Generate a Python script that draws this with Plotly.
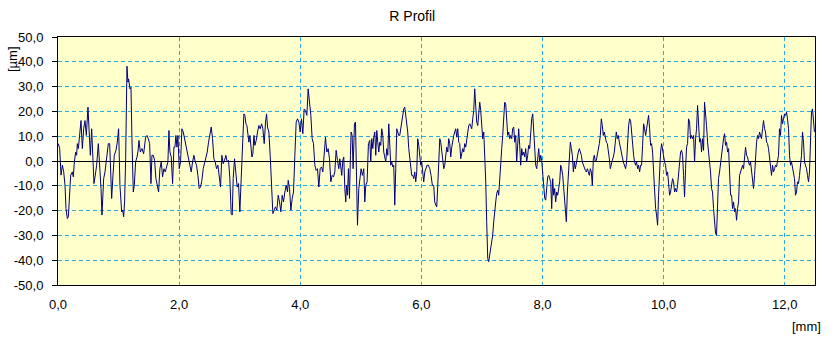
import plotly.graph_objects as go

# ---- data (mm, µm) ----
x_seg1 = [0.006,0.028,0.050,0.072,0.094,0.116,0.132,0.154,0.171,0.187,0.209,0.237,0.253,0.270,0.292,0.308,0.319,0.336,0.352,0.380,0.402,0.424,0.446,0.468,0.495,0.517,0.534,0.556,0.572,0.594,0.616,0.638,0.666,0.688,0.710,0.726,0.754,0.776,0.803,0.831,0.853,0.875,0.886,0.908,0.930,0.957,0.979,1.001,1.023,1.051,1.067,1.084,1.100,1.117,1.139,1.155,1.166,1.188,1.205,1.221,1.243,1.260,1.282,1.304,1.320,1.337,1.359,1.386,1.414,1.447,1.469,1.491,1.513]
y_seg1 = [7.0,5.0,-5.7,-1.7,-4.4,-9.8,-19.2,-23.2,-22.5,-16.5,-5.7,-4.4,-6.4,-0.4,3.6,2.3,7.0,5.0,9.0,16.3,5.0,13.0,16.3,10.3,21.7,13.0,2.3,13.0,2.3,-9.1,-5.7,-1.7,7.0,-1.7,-11.1,-21.8,-7.1,-4.4,2.3,7.0,7.0,-4.4,-15.1,-5.7,2.3,4.3,7.6,13.0,-9.8,-20.5,-19.8,-22.5,-16.5,0.9,38.2,31.8,33.1,29.1,29.7,9.0,-12.5,-9.8,-0.4,1.6,3.6,8.3,3.6,5.0,2.9,9.6,10.3,9.0,7.0]

x_seg2 = [1.535,1.551,1.573,1.595,1.617,1.639,1.661,1.683,1.705,1.727,1.749,1.771,1.793,1.815,1.832,1.848,1.870,1.892,1.914,1.931,1.947,1.964,1.980,2.002,2.024,2.046,2.068,2.090,2.112,2.134,2.156,2.178,2.200,2.222,2.244,2.266,2.288,2.310,2.332,2.354,2.376,2.398,2.420,2.442,2.464,2.486,2.508,2.530,2.552,2.574,2.596,2.618,2.640,2.662,2.684,2.706,2.728,2.750,2.772,2.794,2.816,2.838,2.860,2.877,2.893,2.915,2.937,2.959,2.981,3.003,3.025,3.047,3.069]
y_seg2 = [-9.1,2.3,2.3,0.3,-7.1,-10.5,-12.5,-3.1,-0.4,-6.4,-3.1,-4.4,-1.7,-0.4,12.3,3.6,1.6,-9.1,5.6,5.6,10.3,5.6,10.3,-3.1,-0.4,13.0,11.7,9.0,7.6,3.6,0.9,-1.7,-4.4,-0.4,2.3,-0.4,-1.7,-5.8,-11.1,-10.5,-7.8,-3.1,-1.1,0.9,3.6,7.6,11.7,13.7,9.0,0.9,-0.4,-3.1,-1.7,-5.8,-10.5,2.3,-1.1,0.3,2.3,-0.4,0.3,-7.1,-21.2,-21.8,-7.1,0.9,-4.4,-10.5,-9.1,-20.5,-7.1,10.3,19.0]

x_seg3 = [3.086,3.103,3.119,3.136,3.152,3.169,3.185,3.202,3.218,3.235,3.251,3.273,3.295,3.317,3.339,3.361,3.383,3.405,3.427,3.444,3.460,3.482,3.504,3.526,3.548,3.570,3.592,3.614,3.636,3.658,3.680,3.702,3.724,3.746,3.768,3.790,3.801,3.823,3.845,3.867,3.889,3.911,3.933,3.955,3.977,3.999,4.021,4.043,4.065,4.087,4.109,4.131,4.153,4.175,4.197,4.219,4.241,4.263,4.285,4.307,4.329,4.351,4.373,4.395,4.417,4.439,4.461,4.483,4.505,4.527,4.549,4.571,4.593,4.615,4.637]
y_seg3 = [18.4,15.0,14.3,11.7,7.6,10.3,6.3,1.6,2.9,10.3,6.3,8.3,11.7,14.3,13.0,15.0,13.0,7.0,15.7,19.0,13.7,11.7,2.3,-9.1,-21.2,-19.8,-18.5,-19.8,-13.8,-16.5,-20.5,-13.8,-16.5,-12.5,-9.8,-12.5,-7.8,-11.1,-19.8,-15.1,-12.5,2.3,15.7,17.0,15.7,11.7,17.0,11.0,21.0,20.4,18.4,29.1,24.4,18.4,9.0,7.0,-1.7,-3.8,-3.1,-10.5,-3.1,-2.4,-4.4,2.9,9.6,3.6,5.0,0.9,-8.4,-5.8,-6.4,-4.4,4.3,0.3,-3.1]

x_seg4 = [4.653,4.670,4.686,4.703,4.719,4.736,4.752,4.763,4.780,4.796,4.813,4.829,4.840,4.857,4.873,4.895,4.912,4.928,4.945,4.967,4.983,5.005,5.027,5.049,5.066,5.082,5.104,5.126,5.148,5.165,5.181,5.198,5.214,5.231,5.247,5.264,5.280,5.297,5.313,5.330,5.346,5.363,5.379,5.396,5.412,5.429,5.445,5.462,5.478,5.495,5.511,5.528,5.544,5.561,5.577,5.594,5.610,5.627,5.643,5.660,5.676,5.693,5.709,5.726,5.742,5.759,5.775,5.792,5.808,5.825,5.841,5.858,5.874,5.891,5.907,5.924,5.940,5.957,5.973,5.990,6.006,6.023,6.039,6.056,6.072,6.094,6.116,6.138,6.160,6.182,6.204]
y_seg4 = [0.9,-1.7,-5.8,0.3,1.6,-11.1,-16.5,-9.8,-13.8,-3.1,-15.1,2.3,11.7,10.3,-3.1,15.0,15.7,-4.4,-25.9,-11.1,-7.1,-3.1,-5.8,-3.1,-16.5,-9.8,-8.4,7.0,8.3,-0.4,9.0,5.0,9.6,11.7,2.3,12.3,7.6,3.6,7.6,6.3,13.0,10.3,3.6,0.9,-0.4,5.0,2.3,15.0,2.3,-1.7,-0.4,-2.4,-1.7,-17.8,-3.1,13.0,11.7,10.3,10.3,13.0,15.0,18.4,21.0,21.7,18.4,13.0,11.7,5.0,1.6,-4.4,-5.8,-5.8,-7.1,-4.4,-8.4,-4.4,9.0,6.3,2.3,-1.7,-0.4,-5.8,-8.4,-4.4,-3.1,-1.7,-1.7,-3.1,-5.8,-9.8,-9.8]

x_seg5 = [6.221,6.238,6.254,6.271,6.287,6.304,6.320,6.337,6.353,6.370,6.386,6.403,6.419,6.436,6.452,6.469,6.485,6.502,6.518,6.535,6.551,6.568,6.584,6.601,6.617,6.634,6.650,6.667,6.683,6.700,6.716,6.733,6.749,6.766,6.782,6.799,6.815,6.832,6.848,6.865,6.881,6.898,6.914,6.931,6.947,6.964,6.980,6.997,7.013,7.030,7.046,7.063,7.079,7.096,7.112,7.129,7.145,7.162,7.178,7.195,7.211,7.228,7.244,7.261,7.277,7.294,7.310,7.327,7.343,7.360,7.376,7.393,7.409,7.426,7.442,7.459,7.475,7.492,7.508,7.525,7.541,7.558,7.574,7.591,7.607,7.624,7.640,7.657,7.673,7.690,7.706,7.723,7.739,7.756,7.772]
y_seg5 = [-16.5,-17.8,-18.5,-9.8,2.3,9.0,7.6,3.6,0.3,-3.1,-1.7,2.3,5.6,3.6,9.0,7.0,1.6,5.6,8.3,10.3,11.7,13.0,9.6,13.0,7.6,7.0,0.9,3.6,5.0,3.6,7.0,5.6,9.0,13.0,14.3,15.0,13.7,13.0,17.0,20.4,29.1,23.7,15.7,14.3,18.4,23.7,20.4,14.3,9.0,11.7,2.3,-8.4,-24.5,-39.3,-40.6,-37.9,-36.6,-33.9,-29.9,-24.5,-19.2,-16.5,-13.1,-11.8,-13.8,-5.8,0.9,5.0,10.3,17.0,23.7,23.0,18.4,10.3,11.7,9.0,10.3,9.0,13.0,13.7,7.6,10.3,-0.4,7.6,13.0,6.3,-1.7,5.0,2.3,3.6,1.6,5.0,-0.4,2.3,6.3]

x_seg6 = [7.789,7.806,7.822,7.839,7.855,7.872,7.888,7.905,7.921,7.938,7.954,7.971,7.987,8.004,8.020,8.037,8.053,8.070,8.086,8.103,8.119,8.136,8.152,8.169,8.185,8.202,8.218,8.235,8.251,8.268,8.284,8.301,8.317,8.334,8.350,8.367,8.383,8.394,8.411,8.427,8.444,8.460,8.477,8.493,8.510,8.526,8.543,8.559,8.576,8.592,8.609,8.625,8.642,8.658,8.675,8.691,8.708,8.724,8.741,8.757,8.774,8.790,8.807,8.823,8.840,8.856,8.873,8.889,8.906,8.922,8.939,8.955,8.972,8.988,9.005,9.021,9.038,9.054,9.071,9.087,9.104,9.120,9.137,9.153,9.170,9.186,9.203,9.219,9.236,9.252,9.269,9.285,9.302,9.318,9.335,9.351]
y_seg6 = [5.0,13.0,17.0,19.0,13.0,7.6,-1.7,-3.1,2.3,5.0,-0.4,2.3,0.3,-4.4,-9.8,-15.1,-15.8,-9.8,-6.4,-5.8,-7.1,-8.4,-19.2,-7.1,-13.8,-11.1,-16.5,-12.5,-13.8,-11.1,-8.4,-1.7,-3.1,-5.8,-11.1,-16.5,-19.2,-24.5,-12.5,-5.8,0.9,7.6,5.0,2.3,-4.4,-0.4,-3.1,-0.4,0.9,3.6,5.0,3.6,2.3,-0.4,-1.7,-3.1,-3.8,-4.4,-3.1,-4.4,-5.8,-3.1,-4.4,-9.8,0.9,2.3,-0.4,0.3,2.3,3.6,7.0,10.3,17.0,14.3,10.3,11.7,9.0,7.6,7.0,2.3,0.9,-3.1,-0.4,0.3,1.6,3.6,7.6,11.7,9.0,10.3,7.6,5.0,2.3,1.6,-0.4,-1.7]

x_seg7 = [9.356,9.373,9.389,9.406,9.422,9.439,9.455,9.472,9.488,9.505,9.521,9.538,9.554,9.571,9.587,9.604,9.620,9.637,9.653,9.670,9.686,9.703,9.719,9.736,9.752,9.769,9.785,9.802,9.818,9.835,9.851,9.868,9.884,9.901,9.917,9.934,9.950,9.967,9.983,10.000,10.016,10.033,10.049,10.066,10.082,10.099,10.115,10.132,10.148,10.165,10.181,10.198,10.214,10.231,10.247,10.264,10.280,10.297,10.313,10.330,10.346,10.363,10.379,10.396,10.412,10.429,10.445,10.462,10.478,10.495,10.511,10.528,10.544,10.561,10.577,10.594,10.610,10.627,10.643,10.660,10.676,10.693,10.709,10.726,10.742,10.759,10.775,10.792,10.808,10.825,10.841,10.858,10.874,10.891,10.907]
y_seg7 = [-1.1,-3.1,-0.4,7.6,14.3,17.0,16.3,11.7,6.3,2.3,-0.4,-1.7,-0.4,-3.1,-1.7,-4.4,-1.7,-1.7,6.3,15.0,13.0,10.3,13.0,15.7,18.4,13.0,6.3,7.0,3.6,-4.4,-15.1,-19.2,-21.8,-25.9,-13.8,-1.7,3.6,7.0,4.3,0.3,-0.4,-1.7,-5.8,-4.4,-8.4,-13.8,-12.5,-8.4,-7.1,-8.4,-12.5,-11.1,-12.5,-9.8,-4.4,2.3,3.6,4.3,2.3,-5.8,-14.5,-3.1,5.6,7.0,17.0,15.7,9.0,10.3,9.0,10.3,-0.4,9.0,13.0,22.4,15.7,7.6,9.0,3.6,9.0,4.3,23.7,19.7,14.3,7.6,3.6,0.3,-4.4,-11.1,-12.5,-19.2,-25.9,-29.2,-29.9,-16.5,-7.1]

x_seg8 = [10.924,10.941,10.957,10.974,10.990,11.007,11.023,11.040,11.056,11.073,11.089,11.106,11.122,11.139,11.155,11.172,11.188,11.205,11.221,11.238,11.254,11.271,11.287,11.304,11.320,11.337,11.353,11.370,11.386,11.403,11.419,11.436,11.452,11.469,11.485,11.502,11.518,11.535,11.551,11.568,11.584,11.601,11.617,11.634,11.650,11.667,11.683,11.700,11.716,11.733,11.749,11.766,11.782,11.799,11.815,11.832,11.848,11.865,11.881,11.898,11.914,11.931,11.947,11.964,11.980,11.997,12.013,12.030,12.046,12.063,12.079,12.096,12.112,12.129,12.145,12.162,12.178,12.195,12.211,12.228,12.244,12.261,12.277,12.294,12.310,12.327,12.343,12.360,12.376,12.393,12.409,12.426,12.442,12.459,12.475,12.491]
y_seg8 = [-4.4,-0.4,3.6,5.0,9.0,11.0,6.3,7.6,3.6,5.0,-3.1,-13.8,-13.8,-19.2,-16.5,-20.5,-19.2,-23.9,-19.2,-16.5,-5.8,-4.4,-3.1,-1.7,-3.1,0.9,5.6,2.3,1.6,-0.4,-1.7,-0.4,-4.4,-7.1,-11.1,-5.8,2.3,7.6,10.3,9.0,11.7,10.3,9.0,13.0,16.3,13.0,11.7,7.6,7.0,5.0,0.9,-3.1,-5.8,-1.7,-4.4,-3.1,-1.7,-2.4,-0.4,2.3,13.0,10.3,18.4,15.0,17.0,19.0,18.4,19.7,17.0,13.0,2.3,-1.7,-0.4,-3.1,-4.4,-7.1,-13.8,-12.5,-8.4,-9.1,-5.8,-0.4,2.3,11.7,7.6,-0.4,-1.7,-3.1,-5.8,-8.4,-4.4,9.0,19.7,21.0,14.3,11.7]

x_tick_vals = [0, 2, 4, 6, 8, 10, 12]
x_tick_text = ["0,0", "2,0", "4,0", "6,0", "8,0", "10,0", "12,0"]
y_tick_vals = [-50, -40, -30, -20, -10, 0, 10, 20, 30, 40, 50]
y_tick_text = ["-50,0", "-40,0", "-30,0", "-20,0", "-10,0", "0,0", "10,0", "20,0", "30,0", "40,0", "50,0"]

title_text = "R Profil"
x_unit = "[mm]"
y_unit = "[µm]"

# ---- assemble ----
segs_x = [x_seg1, x_seg2, x_seg3, x_seg4, x_seg5, x_seg6, x_seg7, x_seg8]
segs_y = [y_seg1, y_seg2, y_seg3, y_seg4, y_seg5, y_seg6, y_seg7, y_seg8]
xs, ys = [], []
for sx, sy in zip(segs_x, segs_y):
    assert len(sx) == len(sy), (len(sx), len(sy))
    xs.extend(sx)
    ys.extend(sy)

FONT = "Liberation Sans, Arial, sans-serif"
GRID = "#29ABE2"

fig = go.Figure()
fig.add_trace(go.Scatter(x=xs, y=ys, mode="lines",
                         line=dict(color="#000080", width=1),
                         showlegend=False, hoverinfo="skip"))

fig.update_layout(
    width=838, height=353,
    margin=dict(l=58, r=23, t=37, b=68),
    paper_bgcolor="white",
    plot_bgcolor="#FFFFCC",
    font=dict(family=FONT, size=13, color="black"),
    title=dict(text=title_text, x=0.492, xref="container", xanchor="center",
               y=1 - 16 / 353, yref="container", yanchor="middle",
               font=dict(family=FONT, size=14, color="black")),
    showlegend=False,
)
fig.update_xaxes(
    range=[0, 12.5], tickvals=x_tick_vals, ticktext=x_tick_text,
    showgrid=True, gridcolor=GRID, griddash="4px,3px", gridwidth=1,
    showline=True, mirror=True, linecolor="black", linewidth=1,
    ticks="", zeroline=False,
    ticklabelstandoff=7,
)
fig.update_yaxes(
    range=[-50, 50], tickvals=y_tick_vals, ticktext=y_tick_text,
    showgrid=True, gridcolor=GRID, griddash="4px,3px", gridwidth=1,
    showline=True, mirror=True, linecolor="black", linewidth=1,
    ticks="outside", ticklen=5, tickcolor="black",
    zeroline=True, zerolinecolor="black", zerolinewidth=1,
    ticklabelstandoff=6,
)
fig.add_annotation(text=y_unit, xref="paper", yref="paper",
                   x=(12 - 58) / 757, y=(285 - 59) / 248,
                   xanchor="center", yanchor="middle",
                   textangle=-90, showarrow=False,
                   font=dict(family=FONT, size=13, color="black"))
fig.add_annotation(text=x_unit, xref="paper", yref="paper",
                   x=(806 - 58) / 757, y=(285 - 326) / 248,
                   xanchor="center", yanchor="middle",
                   showarrow=False,
                   font=dict(family=FONT, size=13, color="black"))

fig.write_html("out.html")
